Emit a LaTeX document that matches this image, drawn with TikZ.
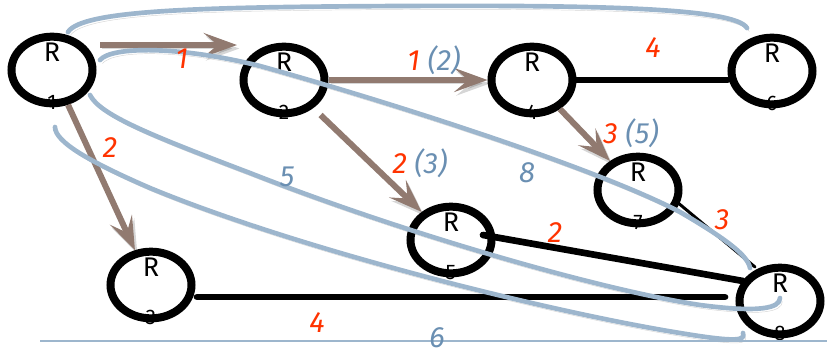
\documentclass[tikz,border=0pt]{standalone}
\usepackage{fontspec}
\setmainfont{Fira Sans}
\usepackage{tikz}
\usetikzlibrary{arrows.meta,positioning,calc,shapes.geometric}
\definecolor{flowbrown}{HTML}{917A70}
\definecolor{pathblue}{HTML}{9DB6CD}
\definecolor{hopblue}{HTML}{6A8FB2}
\definecolor{costred}{HTML}{FF3300}

\tikzset{
  router/.style={ellipse, draw, line width=0.24cm, minimum width=2.43cm,
    minimum height=2.0cm, inner sep=0pt,
    label={[font=\fontsize{23}{26}\selectfont, yshift=0.52cm]center:R},
    label={[font=\fontsize{18}{20}\selectfont, yshift=-0.98cm]center:#1}},
  soft/.style={preaction={draw=black, draw opacity=.16, fill opacity=.16,
    transform canvas={xshift=2pt,yshift=-3pt}}},
  flow/.style={soft, draw=flowbrown, line width=0.18cm,
    -{Stealth[length=1.0cm,width=0.72cm,inset=0.42cm]}},
  link/.style={draw, line width=0.2cm, line cap=round},
  tree/.style={soft, draw=pathblue, line width=0.14cm, line cap=round},
  cost/.style={font=\fontsize{25}{30}\selectfont\itshape, text=costred, inner sep=1pt},
  hops/.style={font=\fontsize{25}{30}\selectfont\itshape, text=hopblue, inner sep=1pt}
}

\begin{document}
\begin{tikzpicture}[x=0.03cm,y=-0.03cm]
 \useasboundingbox (0,0) rectangle (827,354);

 % routers
 \foreach \n/\x/\y in {1/52/70,2/284/80,3/151/285,4/532/80,
   5/451/240,6/772/71,7/638/190,8/780/301}
   \node[router=\n] (r\n) at (\x,\y) {};

 % plain links
 \draw[link] (r4.east) -- (r4.east -| r6.west);
 \draw[link] ($(r5)+(32,-5)$) -- ($(r8)+(-37,-20)$);
 \draw[link,line width=0.09cm] ($(r7)+(39,12)$) -- ($(r8)+(-25,-34)$);
 \draw[link] ($(r3)+(46,12)$) -- ($(r8)+(-55,-4)$);

 % shortest path arrows
 \draw[flow] ($(r1)+(48,-25)$) -- ($(r2)+(-47,-35)$);
 \draw[flow] (r2) -- (r4);
 \draw[flow] (r4) -- (r7);
 \draw[flow,shorten <=0.3cm] (r2) -- (r5);
 \draw[flow] (r1) -- (r3);

 % blue curves
 \draw[tree] (68,32) .. controls (82,10) and (200,7) .. (400,6)
   .. controls (600,5) and (735,8) .. (747,28);
 \draw[tree] (100,60) .. controls (112,46) and (180,46) .. (260,66)
   .. controls (400,105) and (600,170) .. (680,212)
   .. controls (728,240) and (748,256) .. (750,268);
 \draw[tree] (90,95) .. controls (100,115) and (150,135) .. (250,173)
   .. controls (400,232) and (600,290) .. (700,305)
   .. controls (760,313) and (780,308) .. (780,298);
 \draw[tree] (55,127) .. controls (55,142) and (90,162) .. (150,188)
   .. controls (300,250) and (550,312) .. (680,333)
   .. controls (740,343) and (745,340) .. (743,333);
 \draw[pathblue,line width=0.06cm] (40,341) -- (827,341);

 % costs
 \node[cost] (c12) at (182,59) {1};
 \node[cost] (c24) at (434,60) {1 \textcolor{hopblue}{(2)}};
 \node[cost] (c25) at (420,163) {2 \textcolor{hopblue}{(3)}};
 \node[cost] (c47) at (631,133) {3 \textcolor{hopblue}{(5)}};
 \node[cost] (c13) at (110,148) {2};
 \node[cost] (c46) at (653,48) {4};
 \node[cost] (c58) at (555,233) {2};
 \node[cost] (c78) at (722,220) {3};
 \node[cost] (c38) at (317,323) {4};
 \node[hops] (h8) at (527,173) {8};
 \node[hops] (h5) at (287,177) {5};
 \node[hops] (h6) at (437,338) {6};
\end{tikzpicture}
\end{document}
